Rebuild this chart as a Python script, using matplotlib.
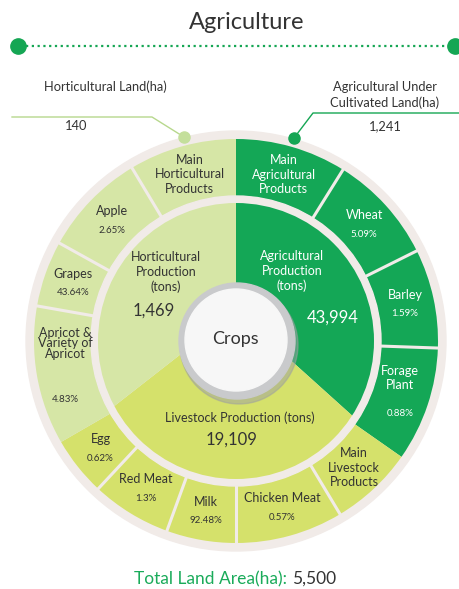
import numpy as np
import matplotlib.pyplot as plt
from matplotlib.patches import Circle

plt.rcParams['font.family'] = ['Lato', 'DejaVu Sans']

# ---- data ----
# outer ring segments, clockwise from 12 o'clock
outer_names = ["Main\nAgricultural\nProducts", "Wheat", "Barley", "Forage\nPlant",
               "Main\nLivestock\nProducts", "Chicken Meat", "Milk", "Red Meat", "Egg",
               "Apricot &\nVariety of\nApricot", "Grapes", "Apple",
               "Main\nHorticultural\nProducts"]
outer_shares = ["", "5.09%", "1.59%", "0.88%", "", "0.57%", "92.48%", "1.3%", "0.62%",
                "4.83%", "43.64%", "2.65%", ""]
outer_groups = ["agri"] * 4 + ["live"] * 5 + ["hort"] * 4
outer_spans = [32, 31.5, 28.5, 33, 24, 31, 20, 23, 17, 40, 19, 30, 31]  # degrees as drawn

# inner ring (production, tons)
inner_groups = ["agri", "live", "hort"]
inner_titles = ["Agricultural\nProduction\n(tons)", "Livestock Production (tons)",
                "Horticultural\nProduction\n(tons)"]
inner_values = [43994, 19109, 1469]
inner_spans = [132, 100, 128]  # degrees as drawn

land_labels = ["Horticultural Land(ha)", "Agricultural Under\nCultivated Land(ha)"]
land_values = [140, 1241]
total_land = 5500

# ---- style ----
colors = {"agri": "#14a756", "live": "#d5e16b", "hort": "#d6e6a6"}
text_colors = {"agri": "white", "live": "#333333", "hort": "#333333"}
ring_color = "#f1ebe8"
dark = "#333333"
green = "#15a654"

W, H = 460, 589
cx, cy = 236, H - 341  # centre of the wheel


def P(x, y):
    """image pixel coords -> data coords"""
    return x, H - y


fig = plt.figure(figsize=(W / 100, H / 100), dpi=100)
ax = fig.add_axes([0, 0, 1, 1])

# outer border
ax.add_patch(Circle((cx, cy), 210, color=ring_color, zorder=1))

# outer ring of products
wedges, _ = ax.pie(outer_spans, radius=202, center=(cx, cy), startangle=90,
                   counterclock=False, colors=[colors[g] for g in outer_groups],
                   wedgeprops=dict(width=57, linewidth=0))
for w in wedges:
    w.set_zorder(2)

# separators inside each group
edges = 90 - np.cumsum([0] + outer_spans)
for i in range(1, len(outer_spans)):
    if outer_groups[i] == outer_groups[i - 1]:
        a = np.radians(edges[i])
        ax.plot([cx + 144 * np.cos(a), cx + 203 * np.cos(a)],
                [cy + 144 * np.sin(a), cy + 203 * np.sin(a)],
                color=ring_color, lw=2.2, zorder=3, solid_capstyle="butt")

# labels in the outer ring
gaps = {"Forage\nPlant": 36, "Apricot &\nVariety of\nApricot": 56}
for i, name in enumerate(outer_names):
    a = np.radians(edges[i] - outer_spans[i] / 2)
    x, y = cx + 173 * np.cos(a), cy + 173 * np.sin(a)
    tc = text_colors[outer_groups[i]]
    ls = 0.85 if name.startswith("Apricot") else 1.25
    if outer_shares[i]:
        g = gaps.get(name, 19)
        ax.text(x, y + g / 2, name, ha="center", va="center", fontsize=9,
                color=tc, linespacing=ls, zorder=6)
        ax.text(x, y - g / 2, outer_shares[i], ha="center", va="center",
                fontsize=7, color=tc, zorder=6)
    else:
        ax.text(x, y, name, ha="center", va="center", fontsize=9, color=tc,
                linespacing=ls, zorder=6)

# inner separator ring
ax.add_patch(Circle((cx, cy), 145, color=ring_color, zorder=3))

# inner production sectors (meet slightly above the centre)
clip = Circle((cx, cy), 138, transform=ax.transData)
inner, _ = ax.pie(inner_spans, radius=260, center=P(236, 311), startangle=90,
                  counterclock=False, colors=[colors[g] for g in inner_groups],
                  wedgeprops=dict(linewidth=0))
for w in inner:
    w.set_zorder(4)
    w.set_clip_on(True)
    w.set_clip_path(clip)

inner_title_pos = [P(292, 271), P(240, 418), P(166, 272)]
inner_value_pos = [P(333, 318), P(232, 440), P(154, 311)]
for i, g in enumerate(inner_groups):
    ax.text(*inner_title_pos[i], inner_titles[i], ha="center", va="center",
            fontsize=9, color=text_colors[g], linespacing=1.3, zorder=6)
    ax.text(*inner_value_pos[i], f"{inner_values[i]:,}", ha="center", va="center",
            fontsize=12, color=text_colors[g], zorder=6)

# centre badge
ax.add_patch(Circle((cx + 3, cy - 4), 59, color="#9d9fa2", alpha=0.5, zorder=5))
ax.add_patch(Circle((cx + 1, cy), 58, color="#c9cacc", zorder=5))
ax.add_patch(Circle((cx, cy + 1), 51, color="#f7f7f7", zorder=5))
ax.text(*P(235, 339), "Crops", ha="center", va="center", fontsize=13,
        color=dark, zorder=6)

# title and dotted rule
ax.text(*P(247, 22), "Agriculture", ha="center", va="center", fontsize=17, color=dark)
ax.plot([26, 448], [H - 46, H - 46], color=green, lw=1.6, linestyle=(0, (1, 1.6)))
ax.plot([18, 455], [H - 46, H - 46], "o", color=green, ms=11, lw=0)

# land callouts
lx = [12, 152, 184]
ly = [117, 117, 137]
ax.plot(lx, [H - v for v in ly], color="#b7d88d", lw=1, zorder=2)
ax.plot(184, H - 137, "o", color="#c4df9c", ms=8, zorder=7)
ax.text(*P(105, 87), land_labels[0], ha="center", va="center", fontsize=9.3, color=dark)
ax.text(*P(76, 126), f"{land_values[0]:,}", ha="center", va="center", fontsize=9.3,
        color=dark)

rx = [460, 313, 294]
ry = [113, 113, 138]
ax.plot(rx, [H - v for v in ry], color=green, lw=1, zorder=2)
ax.plot(294, H - 138, "o", color=green, ms=8, zorder=7)
ax.text(*P(385, 95), land_labels[1], ha="center", va="center", fontsize=9.3,
        color=dark, linespacing=1.35)
ax.text(*P(385, 126), f"{land_values[1]:,}", ha="center", va="center", fontsize=9.3,
        color=dark)

# total
t = ax.text(*P(292, 579), "Total Land Area(ha): ", ha="right", va="center",
            fontsize=12.5, color="#1aab5a")
ax.annotate(f"{total_land:,}", xy=(1, 0.5), xycoords=t, ha="left", va="center",
            fontsize=12.5, color=dark)

ax.set_xlim(0, W)
ax.set_ylim(0, H)
ax.set_aspect("equal")
ax.axis("off")

fig.savefig("out.png", dpi=100)
